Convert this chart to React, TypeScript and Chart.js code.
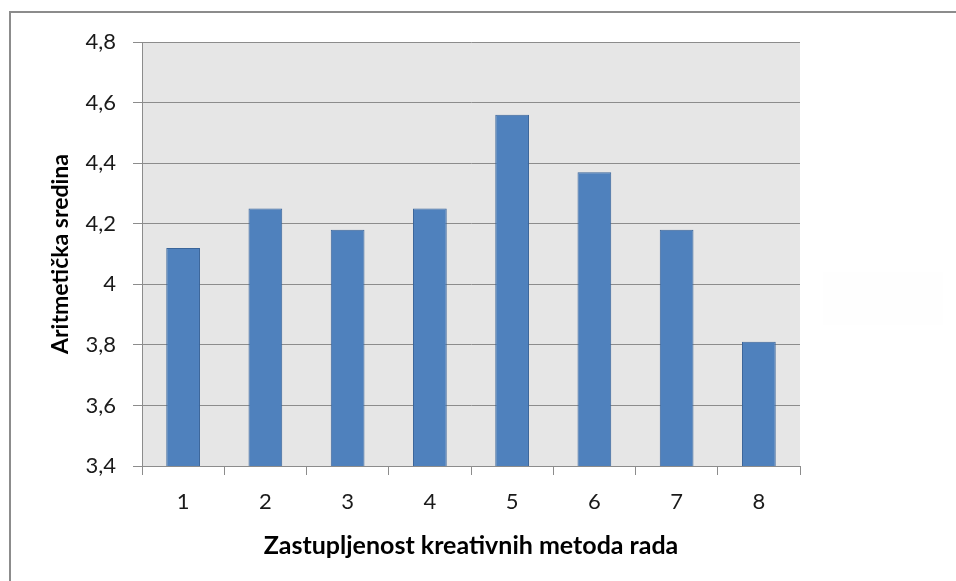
import React, { useEffect, useRef } from "react";
import { Chart, registerables } from "chart.js";

Chart.register(...registerables);

const categories = ["1", "2", "3", "4", "5", "6", "7", "8"];
const means = [4.12, 4.25, 4.18, 4.25, 4.56, 4.37, 4.18, 3.81];
const yMin = 3.4;
const yMax = 4.8;
const yStep = 0.2;
const xTitle = "Zastupljenost kreativnih metoda rada";
const yTitle = "Aritmetička sredina";

const FONT = "Lato, 'Open Sans', sans-serif";

const plotBg = {
  id: "plotBg",
  beforeDraw(chart: any) {
    const { ctx, chartArea } = chart;
    ctx.save();
    ctx.fillStyle = "#e6e6e6";
    ctx.fillRect(chartArea.left, chartArea.top, chartArea.right - chartArea.left, chartArea.bottom - chartArea.top);
    ctx.restore();
  },
};

export default function App() {
  const ref = useRef<HTMLCanvasElement | null>(null);
  useEffect(() => {
    if (!ref.current) return;
    const chart = new Chart(ref.current, {
      type: "bar",
      data: {
        labels: categories,
        datasets: [
          {
            data: means,
            backgroundColor: "#4f81bd",
            borderColor: "#3a659a",
            borderWidth: 1,
            barPercentage: 0.41,
            categoryPercentage: 1,
          },
        ],
      },
      options: {
        animation: false,
        responsive: false,
        layout: { padding: { top: 42, right: 156, left: 0, bottom: 0 } },
        plugins: { legend: { display: false }, tooltip: { enabled: false } },
        scales: {
          x: {
            afterFit: (s: any) => {
              s.height = 115;
            },
            grid: {
              display: true,
              drawOnChartArea: false,
              drawTicks: true,
              tickLength: 9,
              color: "#8c8c8c",
              offset: true,
            },
            border: { display: true, color: "#8c8c8c", width: 1 },
            ticks: { color: "#1a1a1a", font: { family: FONT, size: 22 }, padding: 14 },
            title: {
              display: true,
              text: xTitle,
              color: "#000",
              font: { family: FONT, size: 25, weight: "bold" },
              padding: { top: 0, bottom: 20 },
            },
          },
          y: {
            min: yMin,
            max: yMax,
            afterFit: (s: any) => {
              s.width = 142;
            },
            grid: { color: "#8c8c8c", tickLength: 9, drawTicks: true },
            border: { display: true, color: "#8c8c8c", width: 1 },
            ticks: {
              stepSize: yStep,
              color: "#1a1a1a",
              font: { family: FONT, size: 22 },
              padding: 17,
              callback: (v: any) => String(Number(Number(v).toFixed(1))).replace(".", ","),
            },
            title: {
              display: true,
              text: yTitle,
              color: "#000",
              font: { family: FONT, size: 23, weight: "bold" },
              padding: { top: 47, bottom: 0 },
            },
          },
        },
      },
      plugins: [plotBg],
    });
    return () => chart.destroy();
  }, []);
  return (
    <div style={{ position: "absolute", left: 0, top: 0, width: 956, height: 581, overflow: "hidden", background: "#fff" }}>
      <div
        style={{
          position: "absolute",
          left: 9,
          top: 11,
          width: 1100,
          height: 1100,
          border: "2px solid #8c8c8c",
          boxSizing: "border-box",
        }}
      />
      <div style={{ position: "absolute", left: 823, top: 272, width: 120, height: 53, background: "#fefefe" }} />
      <canvas ref={ref} width={956} height={581} style={{ position: "absolute", left: 0, top: 0 }} />
    </div>
  );
}
